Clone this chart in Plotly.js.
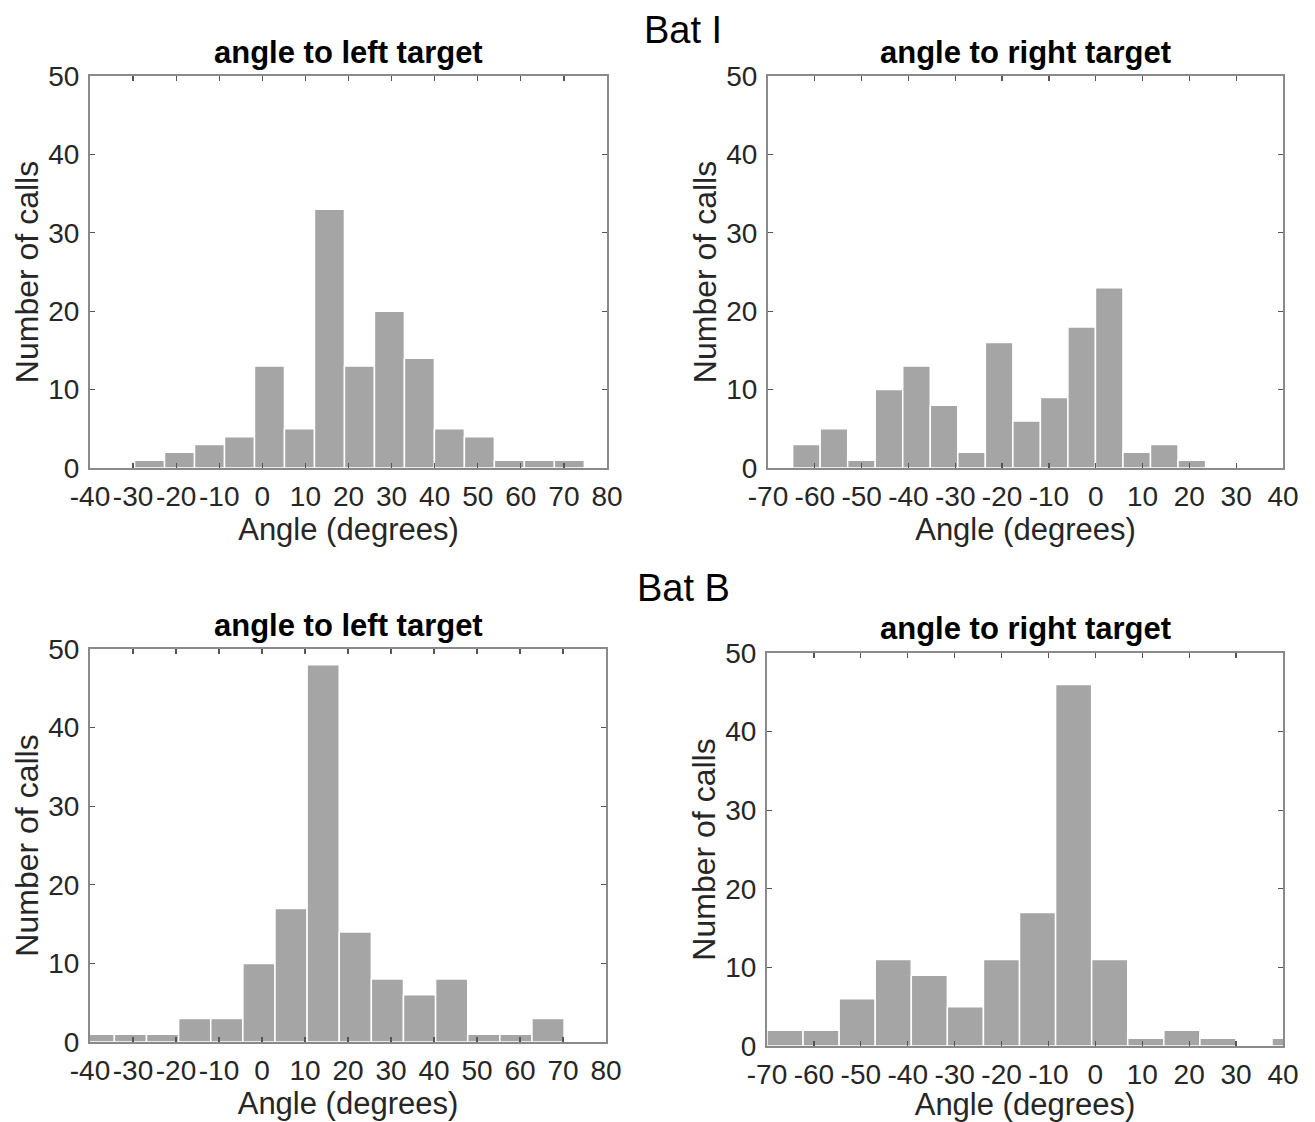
<!DOCTYPE html>
<html><head><meta charset="utf-8">
<script src="https://cdn.plot.ly/plotly-3.0.1.min.js"></script>
<style>html,body{margin:0;padding:0;background:#fff}#chart{width:1315px;height:1122px}</style>
</head><body><div id="chart"></div>
<script>
// ---- data ----
const groupTitles = ['Bat I', 'Bat B'];
const panelTitles = ['angle to left target', 'angle to right target'];
const xAxisLabel = 'Angle (degrees)';
const yAxisLabel = 'Number of calls';

const batILeftCounts = [1, 2, 3, 4, 13, 5, 33, 13, 20, 14, 5, 4, 1, 1, 1];
const batILeftBinStart = -29.66;
const batILeftBinWidth = 6.96;

const batIRightCounts = [3, 5, 1, 10, 13, 8, 2, 16, 6, 9, 18, 23, 2, 3, 1];
const batIRightBinStart = -64.74;
const batIRightBinWidth = 5.88;

const batBLeftCounts = [1, 1, 1, 3, 3, 10, 17, 48, 14, 8, 6, 8, 1, 1, 3];
const batBLeftBinStart = -41.8;
const batBLeftBinWidth = 7.47;

const batBRightCounts = [2, 2, 6, 11, 9, 5, 11, 17, 46, 11, 1, 2, 1, 0, 1];
const batBRightBinStart = -70.0;
const batBRightBinWidth = 7.69;

const xTicksLeft = [-40, -30, -20, -10, 0, 10, 20, 30, 40, 50, 60, 70, 80];
const xTicksRight = [-70, -60, -50, -40, -30, -20, -10, 0, 10, 20, 30, 40];
const yTicks = [0, 10, 20, 30, 40, 50];

// ---- drawing ----
const W = 1315, H = 1122;
const FONT = 'Liberation Sans, Arial, Helvetica, sans-serif';
const BAR = '#a5a5a5';
const AX = '#8a8a8a';
const TXT = '#262626';

function centers(start, width, n) {
  const c = [];
  for (let i = 0; i < n; i++) c.push(start + width * (i + 0.5));
  return c;
}

const panels = [
  {counts: batILeftCounts, start: batILeftBinStart, width: batILeftBinWidth, ticks: xTicksLeft, box: [90, 607, 76, 468], title: panelTitles[0]},
  {counts: batIRightCounts, start: batIRightBinStart, width: batIRightBinWidth, ticks: xTicksRight, box: [768, 1283, 76, 468], title: panelTitles[1]},
  {counts: batBLeftCounts, start: batBLeftBinStart, width: batBLeftBinWidth, ticks: xTicksLeft, box: [90, 606, 649, 1042], title: panelTitles[0]},
  {counts: batBRightCounts, start: batBRightBinStart, width: batBRightBinWidth, ticks: xTicksRight, box: [767, 1283, 653, 1046], title: panelTitles[1]}
];

const traces = [];
const layout = {
  width: W, height: H,
  margin: {l: 0, r: 0, t: 0, b: 0},
  paper_bgcolor: '#fff', plot_bgcolor: '#fff',
  showlegend: false,
  bargap: 0,
  font: {family: FONT, color: TXT},
  annotations: []
};

panels.forEach((p, i) => {
  const k = i === 0 ? '' : String(i + 1);
  traces.push({
    type: 'bar',
    x: centers(p.start, p.width, p.counts.length),
    y: p.counts,
    width: p.counts.map(() => p.width),
    marker: {color: BAR, line: {color: '#ffffff', width: 1.5}},
    xaxis: 'x' + k, yaxis: 'y' + k,
    hoverinfo: 'x+y'
  });
  const [l, r, t, b] = p.box;
  layout['xaxis' + k] = {
    domain: [l / W, r / W],
    anchor: 'y' + k,
    range: [p.ticks[0], p.ticks[p.ticks.length - 1]],
    tickvals: p.ticks,
    ticktext: p.ticks.map(String),
    ticks: 'inside', ticklen: 5, tickwidth: 1.2, tickcolor: '#555',
    showline: true, linecolor: AX, linewidth: 2, mirror: 'ticks',
    showgrid: false, zeroline: false,
    tickfont: {size: 28, color: TXT, family: FONT},
    ticklabelstandoff: 2,
    title: {text: xAxisLabel, font: {size: 31, color: TXT, family: FONT}, standoff: 3},
    fixedrange: true
  };
  layout['yaxis' + k] = {
    domain: [1 - b / H, 1 - t / H],
    anchor: 'x' + k,
    range: [0, 50],
    tickvals: yTicks,
    ticktext: yTicks.map(String),
    ticks: 'inside', ticklen: 5, tickwidth: 1.2, tickcolor: '#555',
    showline: true, linecolor: AX, linewidth: 2, mirror: 'ticks',
    showgrid: false, zeroline: false,
    tickfont: {size: 28, color: TXT, family: FONT},
    ticklabelstandoff: 3,
    title: {text: yAxisLabel, font: {size: 32, color: TXT, family: FONT}, standoff: 0},
    fixedrange: true
  };
  layout.annotations.push({
    text: '<b>' + p.title + '</b>',
    xref: 'paper', yref: 'paper',
    x: ((l + r) / 2) / W, y: 1 - (t - 24) / H,
    xanchor: 'center', yanchor: 'middle',
    showarrow: false,
    font: {size: 31, color: '#000', family: FONT}
  });
});

layout.annotations.push({
  text: groupTitles[0], xref: 'paper', yref: 'paper',
  x: 683 / W, y: 1 - 30 / H, xanchor: 'center', yanchor: 'middle',
  showarrow: false, font: {size: 38, color: '#000', family: FONT}
});
layout.annotations.push({
  text: groupTitles[1], xref: 'paper', yref: 'paper',
  x: 683 / W, y: 1 - 588 / H, xanchor: 'center', yanchor: 'middle',
  showarrow: false, font: {size: 38, color: '#000', family: FONT}
});

Plotly.newPlot('chart', traces, layout, {displayModeBar: false, staticPlot: true});
</script>
</body></html>
